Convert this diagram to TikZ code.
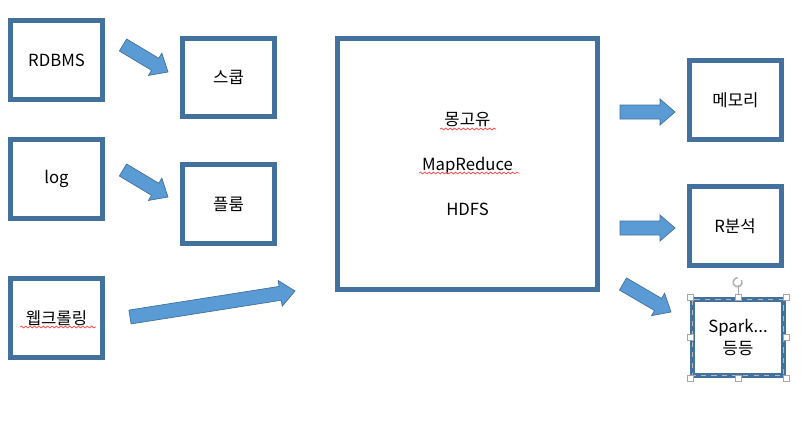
\documentclass[tikz,border=0pt]{standalone}
\usepackage{fontspec}
\setmainfont{Noto Sans CJK KR}
\usepackage{xcolor}
\usepackage{tikz}
\usetikzlibrary{
  calc,
  decorations.pathmorphing
}

\definecolor{boxblue}{HTML}{41719C}
\definecolor{arrowblue}{HTML}{5B9BD5}

\begin{document}
\begin{tikzpicture}[%스타일 설정
          x=0.02cm,y=-0.02cm,
          box/.style={
              draw=boxblue,
              line width=0.1cm,
              fill=white,
              minimum width=1.84cm,
              minimum height=1.58cm,
              inner sep=0pt,
              font=\fontsize{9.5}{11.4}\selectfont
            },blockarrow/.style={
              draw=boxblue,
              line width=0.4pt,
              fill=arrowblue,
              to path={
                  ($(\tikztostart)!0.14cm!90:(\tikztotarget)$)
                  -- ($(\tikztotarget)!0.3cm!(\tikztostart)!0.14cm!90:(\tikztotarget)$)
                  -- ($(\tikztotarget)!0.3cm!(\tikztostart)!0.26cm!90:(\tikztotarget)$)
                  -- (\tikztotarget)
                  -- ($(\tikztotarget)!0.3cm!(\tikztostart)!0.26cm!-90:(\tikztotarget)$)
                  -- ($(\tikztotarget)!0.3cm!(\tikztostart)!0.14cm!-90:(\tikztotarget)$)
                  -- ($(\tikztostart)!0.14cm!-90:(\tikztotarget)$)
                  -- cycle
                }
            },squiggle/.style={
              red!65,
              line width=0.5pt,
              decorate,
              decoration={snake,amplitude=0.5pt,segment length=2.5pt}
            },handle/.style={
              draw=gray!70,
              fill=white,
              line width=0.4pt
            }
        ]
        \useasboundingbox (0,0) rectangle (801,420);

        % 입력 상자
        \node[box] (rdbms) at (56.5,60) {RDBMS};
        \node[box] (log) at (56.5,179) {log};
        \node[box] (crawl) at (56.5,318) {웹크롤링};

        % 수집 상자
        \node[box] (sqoop) at (228.5,77.5) {스쿱};
        \node[box] (flume) at (228.5,204) {플룸};

        % 하둡 상자
        \node[
          box,
          minimum width=5.2cm,
          minimum height=5.02cm,
          align=center,
          font=\fontsize{9.5}{25.5}\selectfont
        ] (hadoop) at (467.5,164) {몽고유\\MapReduce\\HDFS};

        % 출력 상자
        \node[box] (memory) at (735.5,100) {메모리};
        \node[box] (ranal) at (735,226) {R분석};
        \node[
          box,
          minimum width=1.82cm,
          minimum height=1.52cm,
          align=center,
          font=\fontsize{9.5}{12.5}\selectfont
        ] (spark) at (738,337.5) {Spark...\\등등};

        % 화살표 좌표
        \coordinate (rdbms_tail) at (123,45);
        \coordinate (sqoop_tip) at (168,72);
        \coordinate (log_tail) at (123,170);
        \coordinate (flume_tip) at (168,197);
        \coordinate (crawl_tail) at (130,317);
        \coordinate (hadoop_tip) at (295,291);
        \coordinate (memory_tail) at (620,112);
        \coordinate (memory_tip) at (675,112);
        \coordinate (ranal_tail) at (620,228);
        \coordinate (ranal_tip) at (675,228);
        \coordinate (spark_tail) at (623,284);
        \coordinate (spark_tip) at (671,312);

        % 블록 화살표
        \draw[blockarrow] (rdbms_tail) to (sqoop_tip);
        \draw[blockarrow] (log_tail) to (flume_tip);
        \draw[blockarrow] (crawl_tail) to (hadoop_tip);
        \draw[blockarrow] (memory_tail) to (memory_tip);
        \draw[blockarrow] (ranal_tail) to (ranal_tip);
        \draw[blockarrow] (spark_tail) to (spark_tip);

        % 맞춤법 밑줄
        \draw[squiggle] (440,129) -- (496,129);
        \draw[squiggle] (419,173) -- (519,173);
        \draw[squiggle] (20,327) -- (96,327);

        % 선택 표시
        \draw[gray!55,dashed,line width=0.4pt]
          ($(spark.north west)+(2.5,2.5)$) rectangle ($(spark.south east)+(-2.5,-2.5)$);
        \draw[gray!70,line width=0.4pt] (spark.north) -- ++(0,-12) coordinate (rot_base);
        \draw[gray!60,line width=0.9pt] ($(rot_base)+(3.5,-5)$) arc (-30:270:4.5);
        \foreach \p in {north west,north,north east,east,south east,south,south west,west}{
            \draw[handle] ($(spark.\p)+(-3,-3)$) rectangle ++(6,6);
          }

      \end{tikzpicture}
\end{document}
